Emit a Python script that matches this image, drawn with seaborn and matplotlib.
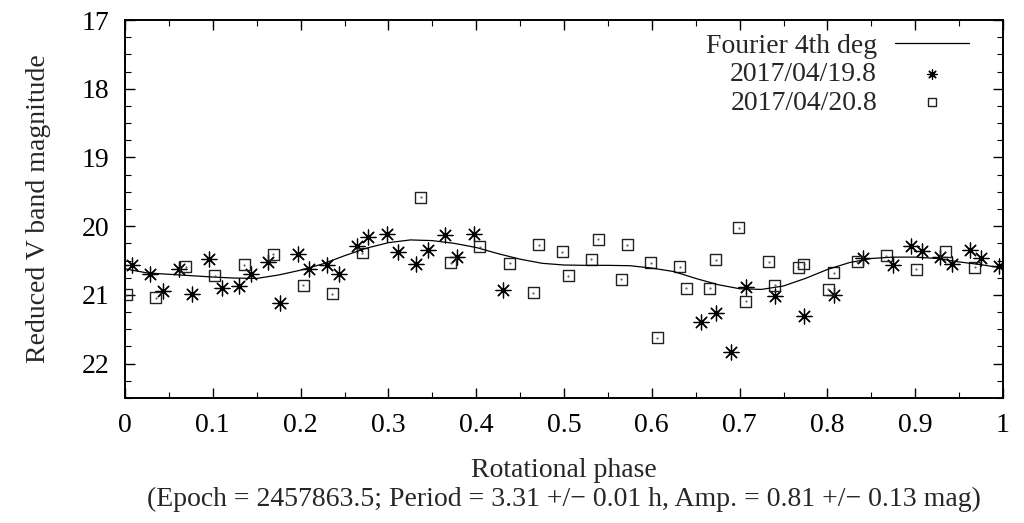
import numpy as np
import pandas as pd
import matplotlib
matplotlib.use("Agg")
import matplotlib.pyplot as plt
import seaborn as sns

# ---- data ----
star_phase = [0.008, 0.029, 0.043, 0.062, 0.076, 0.096, 0.110, 0.130, 0.143, 0.163,
              0.177, 0.197, 0.210, 0.230, 0.244, 0.264, 0.277, 0.298, 0.311, 0.331,
              0.345, 0.365, 0.378, 0.398, 0.431, 0.656, 0.673, 0.690, 0.707, 0.740,
              0.773, 0.807, 0.841, 0.875, 0.895, 0.908, 0.928, 0.942, 0.962, 0.975, 0.995]
star_mag = [20.57, 20.69, 20.94, 20.63, 20.98, 20.48, 20.90, 20.87, 20.69, 20.52,
            21.12, 20.41, 20.63, 20.56, 20.69, 20.29, 20.16, 20.11, 20.37, 20.55,
            20.34, 20.13, 20.45, 20.12, 20.93, 21.39, 21.26, 21.83, 20.89, 21.02,
            21.30, 21.00, 20.46, 20.56, 20.29, 20.36, 20.45, 20.55, 20.35, 20.47, 20.58]

sq_phase = [0.0015, 0.035, 0.069, 0.102, 0.136, 0.169, 0.203, 0.236, 0.270, 0.337,
            0.371, 0.404, 0.438, 0.465, 0.471, 0.498, 0.505, 0.531, 0.539, 0.565,
            0.572, 0.599, 0.606, 0.632, 0.639, 0.666, 0.673, 0.699, 0.707, 0.733,
            0.740, 0.767, 0.773, 0.801, 0.807, 0.834, 0.867, 0.901, 0.934, 0.968]
sq_mag = [21.00, 21.04, 20.59, 20.72, 20.56, 20.41, 20.86, 20.98, 20.39, 19.58,
          20.53, 20.30, 20.54, 20.97, 20.27, 20.37, 20.72, 20.48, 20.19, 20.77,
          20.27, 20.53, 21.62, 20.59, 20.90, 20.90, 20.49, 20.02, 21.09, 20.52,
          20.86, 20.60, 20.55, 20.92, 20.68, 20.52, 20.43, 20.63, 20.37, 20.60]

fit_phase = [0.000, 0.025, 0.050, 0.075, 0.100, 0.125, 0.150, 0.175, 0.200, 0.225,
             0.250, 0.275, 0.300, 0.325, 0.350, 0.375, 0.400, 0.425, 0.450, 0.475,
             0.500, 0.525, 0.550, 0.575, 0.600, 0.625, 0.650, 0.675, 0.700, 0.725,
             0.750, 0.775, 0.800, 0.825, 0.850, 0.875, 0.900, 0.925, 0.950, 0.975, 1.000]
fit_mag = [20.62, 20.68, 20.70, 20.72, 20.74, 20.755, 20.76, 20.71, 20.64, 20.55,
           20.43, 20.32, 20.24, 20.20, 20.21, 20.25, 20.31, 20.40, 20.48, 20.54,
           20.565, 20.57, 20.57, 20.575, 20.61, 20.66, 20.76, 20.85, 20.91, 20.92,
           20.87, 20.76, 20.63, 20.53, 20.47, 20.45, 20.45, 20.47, 20.52, 20.56, 20.61]

x_ticks = [0, 0.1, 0.2, 0.3, 0.4, 0.5, 0.6, 0.7, 0.8, 0.9, 1]
x_ticklabels = ["0", "0.1", "0.2", "0.3", "0.4", "0.5", "0.6", "0.7", "0.8", "0.9", "1"]
y_ticks = [17, 18, 19, 20, 21, 22]

fit_label = "Fourier 4th deg"
star_label = "2017/04/19.8"
sq_label = "2017/04/20.8"
xlabel = "Rotational phase\n(Epoch = 2457863.5; Period = 3.31 +/\u2212 0.01 h, Amp. = 0.81 +/\u2212 0.13 mag)"
ylabel = "Reduced V band magnitude"

# ---- style ----
sns.set_theme(style="ticks")
plt.rcParams["font.family"] = ["Liberation Serif", "DejaVu Serif"]

FS = 20

fig = plt.figure(figsize=(10.24, 5.23), dpi=100)
ax = fig.add_axes([125 / 1024, 1 - 398 / 523, (1003 - 125) / 1024, (398 - 20) / 523])

df_fit = pd.DataFrame({"phase": fit_phase, "mag": fit_mag})
df_star = pd.DataFrame({"phase": star_phase, "mag": star_mag})
df_sq = pd.DataFrame({"phase": sq_phase, "mag": sq_mag})

sns.lineplot(data=df_fit, x="phase", y="mag", ax=ax, color="black", lw=0.9,
             label=fit_label, sort=False, estimator=None)
sns.scatterplot(data=df_star, x="phase", y="mag", ax=ax, marker=(8, 2, 0), s=115,
                color="black", linewidth=0.9, edgecolor="black", label=star_label)
sns.scatterplot(data=df_sq, x="phase", y="mag", ax=ax, marker="s", s=62,
                facecolor="none", edgecolor="#222222", linewidth=1.0, label=sq_label)
ax.scatter(sq_phase, sq_mag, marker=".", s=1, color="#444444", zorder=3)

ax.set_xlim(0, 1)
ax.set_ylim(22.5, 17)
ax.set_xticks(x_ticks)
ax.set_xticklabels(x_ticklabels)
ax.set_yticks(y_ticks)
ax.xaxis.set_minor_locator(matplotlib.ticker.MultipleLocator(0.05))
ax.yaxis.set_minor_locator(matplotlib.ticker.MultipleLocator(0.25))
ax.tick_params(which="both", direction="in", top=True, right=True, colors="black",
               labelsize=FS)
ax.tick_params(which="major", length=7, width=1.0, pad=11)
ax.tick_params(which="minor", length=4, width=0.8)
for sp in ax.spines.values():
    sp.set_visible(True)
    sp.set_linewidth(1.4)
    sp.set_color("black")

ax.set_xlabel(xlabel, fontsize=FS, labelpad=14, linespacing=1.2)
ax.set_ylabel(ylabel, fontsize=FS, labelpad=22)

leg = ax.legend(loc="upper right", bbox_to_anchor=(0.98, 1.008), frameon=False,
                markerfirst=False, fontsize=FS, handlelength=2.65, handletextpad=0.65,
                labelspacing=0.1, borderaxespad=0.2)
hs = leg.legend_handles
if hasattr(hs[1], "set_sizes"):
    hs[1].set_sizes([45])
if hasattr(hs[2], "set_sizes"):
    hs[2].set_sizes([30])

fig.savefig("out.png", dpi=100, facecolor="white")
